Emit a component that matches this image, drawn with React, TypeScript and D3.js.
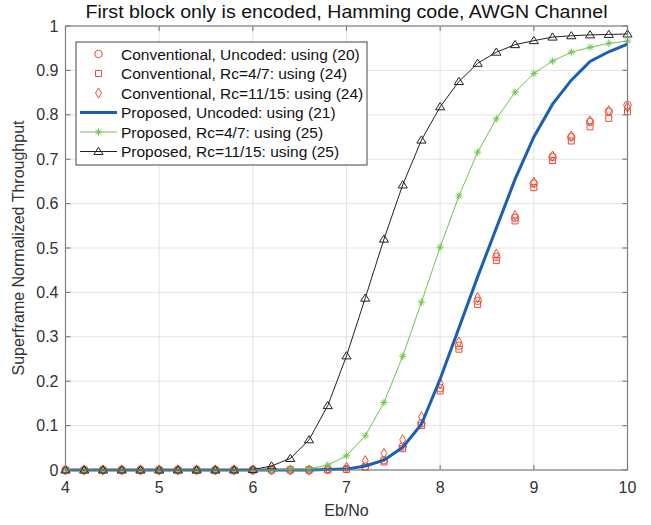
import React from 'react';
import * as d3 from 'd3';

const WIDTH = 651;
const HEIGHT = 525;
const MARGIN = { top: 26, right: 23.5, bottom: 55, left: 65.5 };
const FONT = '"Liberation Sans", Arial, Helvetica, sans-serif';

const ebno = [4.0, 4.2, 4.4, 4.6, 4.8, 5.0, 5.2, 5.4, 5.6, 5.8, 6.0, 6.2, 6.4, 6.6, 6.8, 7.0,
    7.2, 7.4, 7.6, 7.8, 8.0, 8.2, 8.4, 8.6, 8.8, 9.0, 9.2, 9.4, 9.6, 9.8, 10.0];

// conventional schemes (markers only)
const convUncoded = [0, 0, 0, 0, 0, 0, 0, 0, 0, 0, 0, 0, 0, 0, 0.001, 0.002,
    0.008, 0.022, 0.053, 0.105, 0.184, 0.28, 0.381, 0.48, 0.568, 0.645, 0.705, 0.75, 0.784, 0.807, 0.822];
const convRc47 = [0, 0, 0, 0, 0, 0, 0, 0, 0, 0, 0, 0, 0, 0, 0, 0.001,
    0.006, 0.018, 0.048, 0.1, 0.178, 0.272, 0.373, 0.472, 0.561, 0.636, 0.697, 0.741, 0.773, 0.792, 0.807];
const convRc1115 = [0, 0, 0, 0, 0, 0, 0, 0, 0, 0, 0, 0, 0, 0, 0.003, 0.006,
    0.021, 0.037, 0.068, 0.12, 0.195, 0.288, 0.388, 0.486, 0.573, 0.648, 0.707, 0.752, 0.786, 0.809, 0.817];

// proposed schemes
const propUncoded = [0, 0, 0, 0, 0, 0, 0, 0, 0, 0, 0, 0, 0, 0, 0.001, 0.002,
    0.009, 0.022, 0.051, 0.103, 0.205, 0.32, 0.435, 0.545, 0.655, 0.75, 0.824, 0.878, 0.92, 0.942, 0.959];
const propRc47 = [0, 0, 0, 0, 0, 0, 0, 0, 0, 0, 0, 0, 0.002, 0.003, 0.011, 0.032,
    0.077, 0.152, 0.256, 0.378, 0.502, 0.617, 0.716, 0.791, 0.851, 0.893, 0.921, 0.941, 0.952, 0.961, 0.966];
const propRc1115 = [0, 0, 0, 0, 0, 0, 0, 0, 0, 0, 0.001, 0.009, 0.026, 0.068, 0.145, 0.257,
    0.387, 0.52, 0.642, 0.743, 0.818, 0.875, 0.916, 0.941, 0.958, 0.967, 0.975, 0.978, 0.98, 0.981, 0.982];

const xTicks = [4, 5, 6, 7, 8, 9, 10];
const yTicks = [0, 0.1, 0.2, 0.3, 0.4, 0.5, 0.6, 0.7, 0.8, 0.9, 1];

const legendLabels = [
    'Conventional, Uncoded: using (20)',
    'Conventional, Rc=4/7: using (24)',
    'Conventional, Rc=11/15: using (24)',
    'Proposed, Uncoded: using (21)',
    'Proposed, Rc=4/7: using (25)',
    'Proposed, Rc=11/15: using (25)',
];

const RED = '#f04b34';
const BLUE = '#1a5fb4';
const GREEN = '#6cc64a';
const BLACK = '#222222';

const circlePath = d3.symbol().type(d3.symbolCircle).size(44)();
const squarePath = d3.symbol().type(d3.symbolSquare).size(36)();
const diamondPath = d3.symbol().type(d3.symbolDiamond).size(30)();
const trianglePath = 'M0,-4.2L4.6,3L-4.6,3Z';
const starPath = 'M-3.6,0H3.6M0,-3.6V3.6M-2.6,-2.6L2.6,2.6M-2.6,2.6L2.6,-2.6';

const Marker = ({ kind, x, y }) => {
    const t = `translate(${x},${y})`;
    switch (kind) {
        case 'circle':
            return <path d={circlePath} transform={t} fill="none" stroke={RED} strokeWidth={1} />;
        case 'square':
            return <path d={squarePath} transform={t} fill="none" stroke={RED} strokeWidth={1} />;
        case 'diamond':
            return <path d={diamondPath} transform={t} fill="none" stroke={RED} strokeWidth={1} />;
        case 'triangle':
            return <path d={trianglePath} transform={t} fill="none" stroke={BLACK} strokeWidth={1} />;
        case 'star':
            return <path d={starPath} transform={t} fill="none" stroke={GREEN} strokeWidth={1} />;
        default:
            return null;
    }
};

const series = [
    { values: convUncoded, marker: 'circle', line: null, width: 0 },
    { values: convRc47, marker: 'square', line: null, width: 0 },
    { values: convRc1115, marker: 'diamond', line: null, width: 0 },
    { values: propUncoded, marker: null, line: BLUE, width: 3 },
    { values: propRc47, marker: 'star', line: GREEN, width: 1 },
    { values: propRc1115, marker: 'triangle', line: BLACK, width: 1 },
];

const App = () => {
    const chartLeft = MARGIN.left;
    const chartRight = WIDTH - MARGIN.right;
    const chartTop = MARGIN.top;
    const chartBottom = HEIGHT - MARGIN.bottom;

    const xScale = d3.scaleLinear().domain([4, 10]).range([chartLeft, chartRight]);
    const yScale = d3.scaleLinear().domain([0, 1]).range([chartBottom, chartTop]);

    const line = d3.line<number>()
        .x((d, i) => xScale(ebno[i]))
        .y(d => yScale(d));

    const legendX = 76;
    const legendY = 42;
    const rowH = 19.5;

    return (
        <svg width={WIDTH} height={HEIGHT} style={{ position: 'absolute', left: 0, top: 0, background: '#fff' }}
            fontFamily={FONT}>
            <rect x={0} y={0} width={WIDTH} height={HEIGHT} fill="#fff" />
            {/* grid */}
            <g stroke="#e3e3e3" strokeWidth={1}>
                {xTicks.map(t => <line key={'gx' + t} x1={xScale(t)} x2={xScale(t)} y1={chartTop} y2={chartBottom} />)}
                {yTicks.map(t => <line key={'gy' + t} x1={chartLeft} x2={chartRight} y1={yScale(t)} y2={yScale(t)} />)}
            </g>

            {/* series */}
            {series.map((s, si) => (
                <g key={'s' + si}>
                    {s.line && <path d={line(s.values)} fill="none" stroke={s.line} strokeWidth={s.width} />}
                    {s.marker && s.values.map((v, i) => <Marker key={i} kind={s.marker} x={xScale(ebno[i])} y={yScale(v)} />)}
                </g>
            ))}

            {/* axes box and ticks */}
            <rect x={chartLeft} y={chartTop} width={chartRight - chartLeft} height={chartBottom - chartTop}
                fill="none" stroke="#808080" strokeWidth={1.2} />
            <g stroke="#808080" strokeWidth={1.2}>
                {xTicks.map(t => (
                    <g key={'tx' + t}>
                        <line x1={xScale(t)} x2={xScale(t)} y1={chartBottom} y2={chartBottom - 5} />
                        <line x1={xScale(t)} x2={xScale(t)} y1={chartTop} y2={chartTop + 5} />
                    </g>
                ))}
                {yTicks.map(t => (
                    <g key={'ty' + t}>
                        <line x1={chartLeft} x2={chartLeft + 5} y1={yScale(t)} y2={yScale(t)} />
                        <line x1={chartRight} x2={chartRight - 5} y1={yScale(t)} y2={yScale(t)} />
                    </g>
                ))}
            </g>
            <g fill="#333" fontSize={16}>
                {xTicks.map(t => (
                    <text key={'lx' + t} x={xScale(t)} y={chartBottom + 23} textAnchor="middle">{t}</text>
                ))}
                {yTicks.map(t => (
                    <text key={'ly' + t} x={chartLeft - 7} y={yScale(t)} dy="0.35em" textAnchor="end">{t}</text>
                ))}
            </g>
            <text x={(chartLeft + chartRight) / 2} y={HEIGHT - 9} textAnchor="middle" fontSize={16} fill="#333">Eb/No</text>
            <text transform={`translate(24,${(chartTop + chartBottom) / 2}) rotate(-90)`} textAnchor="middle"
                fontSize={16} fill="#333">Superframe Normalized Throughput</text>
            <text x={(chartLeft + chartRight) / 2} y={18} textAnchor="middle" fontSize={17.5} fill="#111"
                textLength={522} lengthAdjust="spacingAndGlyphs">
                First block only is encoded, Hamming code, AWGN Channel
            </text>

            {/* legend */}
            <g>
                <rect x={legendX} y={legendY} width={291} height={123} fill="#fff" stroke="#444" strokeWidth={1} />
                {series.map((s, i) => {
                    const cy = legendY + 12 + i * rowH;
                    return (
                        <g key={'lg' + i}>
                            {s.line && <line x1={legendX + 4} x2={legendX + 41} y1={cy} y2={cy} stroke={s.line} strokeWidth={s.width} />}
                            {s.marker && <Marker kind={s.marker} x={legendX + 22.5} y={cy} />}
                            <text x={legendX + 45} y={cy} dy="0.36em" fontSize={15.5} fill="#111">{legendLabels[i]}</text>
                        </g>
                    );
                })}
            </g>
        </svg>
    );
};

export default App;
